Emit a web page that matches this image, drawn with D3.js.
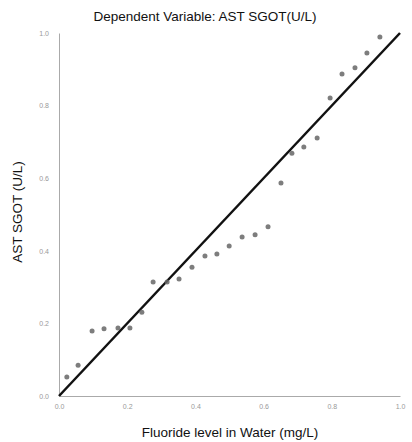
<!DOCTYPE html>
<html>
<head>
<meta charset="utf-8">
<script src="https://cdn.jsdelivr.net/npm/d3@7"></script>
<style>
  body { margin: 0; background: #fff; }
  text { font-family: "Liberation Sans", Arial, sans-serif; }
</style>
</head>
<body>
<svg class="pp-svg" width="412" height="442"></svg>
<script>
var observed = [0.023, 0.056, 0.097, 0.132, 0.173, 0.208, 0.243, 0.276, 0.317, 0.352,
                0.390, 0.428, 0.463, 0.499, 0.537, 0.575, 0.613, 0.651, 0.683, 0.718,
                0.757, 0.795, 0.830, 0.868, 0.903, 0.941];
var expected = [0.052, 0.085, 0.179, 0.185, 0.187, 0.187, 0.231, 0.314, 0.314, 0.322,
                0.355, 0.386, 0.391, 0.413, 0.438, 0.444, 0.466, 0.587, 0.669, 0.686,
                0.711, 0.821, 0.887, 0.904, 0.945, 0.989];
var tickValues = [0.0, 0.2, 0.4, 0.6, 0.8, 1.0];

var svg = d3.select(".pp-svg"),
    margin = {top: 33, right: 12, bottom: 46, left: 59},
    width = +svg.attr("width") - margin.left - margin.right,
    height = +svg.attr("height") - margin.top - margin.bottom;

var x = d3.scaleLinear().domain([0, 1]).range([0, width]),
    y = d3.scaleLinear().domain([0, 1]).range([height, 0]);

var g = svg.append("g")
    .attr("transform", "translate(" + margin.left + "," + margin.top + ")");

// Title
svg.append("text")
    .attr("x", 205)
    .attr("y", 21)
    .style("text-anchor", "middle")
    .style("font-size", "13.5px")
    .attr("fill", "#111")
    .text("Dependent Variable: AST SGOT(U/L)");

// X axis
var xAxis = g.append("g")
    .attr("transform", "translate(0," + height + ")")
    .call(d3.axisBottom(x).tickValues(tickValues).tickSize(0).tickPadding(8)
        .tickFormat(d3.format(".1f")));
xAxis.select(".domain").attr("stroke", "#aaa");
xAxis.selectAll("text").attr("fill", "#999").style("font-size", "7px");

// Y axis
var yAxis = g.append("g")
    .call(d3.axisLeft(y).tickValues(tickValues).tickSize(0).tickPadding(10)
        .tickFormat(d3.format(".1f")));
yAxis.select(".domain").attr("stroke", "#aaa");
yAxis.selectAll("text").attr("fill", "#999").style("font-size", "7px");

// Axis labels
svg.append("text")
    .attr("x", 230)
    .attr("y", 437)
    .style("text-anchor", "middle")
    .style("font-size", "13.5px")
    .attr("fill", "#111")
    .text("Fluoride level in Water (mg/L)");

svg.append("text")
    .attr("transform", "translate(22,212) rotate(-90)")
    .style("text-anchor", "middle")
    .style("font-size", "13.5px")
    .attr("fill", "#111")
    .text("AST SGOT (U/L)");

// Reference line
g.append("line")
    .attr("x1", x(0)).attr("y1", y(0))
    .attr("x2", x(1)).attr("y2", y(1))
    .attr("stroke", "#111")
    .attr("stroke-width", 2.5);

// Points
var pts = observed.map(function(d, i) { return {o: d, e: expected[i]}; });
g.selectAll(".pt")
    .data(pts)
    .enter()
        .append("circle")
        .attr("class", "pt")
        .attr("cx", function(d) { return x(d.o); })
        .attr("cy", function(d) { return y(d.e); })
        .attr("r", 2.5)
        .attr("fill", "#666")
        .attr("opacity", 0.85);
</script>
</body>
</html>
